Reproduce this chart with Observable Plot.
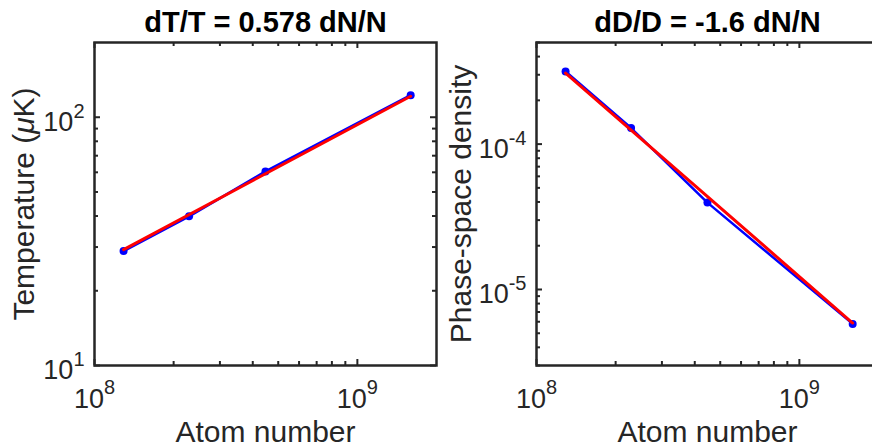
<!DOCTYPE html>
<html><head><meta charset="utf-8">
<script src="https://cdn.jsdelivr.net/npm/d3@7"></script>
<script src="https://cdn.jsdelivr.net/npm/@observablehq/plot@0.6"></script>
<style>
html,body{margin:0;padding:0;background:#fff;overflow:hidden}
#wrap{position:relative;width:872px;height:447px;overflow:hidden;background:#fff}
#wrap svg{position:absolute;top:0;overflow:visible}
</style></head><body><div id="wrap"></div>
<script>
// ---- data ----
const atomNumber = [1.29e8, 2.29e8, 4.47e8, 1.595e9];
const temperature = [28.9, 39.9, 60.5, 122.7];          // µK
const phaseSpaceDensity = [3.16e-4, 1.29e-4, 3.96e-5, 5.8e-6];
const fitAtomNumber = [1.29e8, 1.595e9];
const fitTemperature = [29.3, 121.5];
const fitDensity = [3.08e-4, 5.88e-6];
const titles = ["dT/T = 0.578 dN/N", "dD/D = -1.6 dN/N"];
const xLabel = "Atom number";
const yLabels = ["Temperature (μK)", "Phase-space density"];
const xDomain = [1e8, 2e9];
const tDomain = [10, 200];
const dDomain = [3e-6, 5e-4];
const xMajor = [1e8, 1e9];
const xMinor = [2e8, 3e8, 4e8, 5e8, 6e8, 7e8, 8e8, 9e8];
const tMajor = [10, 100];
const tMinor = [20, 30, 40, 50, 60, 70, 80, 90];
const dMajor = [1e-5, 1e-4];
const dMinor = [3e-6, 4e-6, 5e-6, 6e-6, 7e-6, 8e-6, 9e-6,
                2e-5, 3e-5, 4e-5, 5e-5, 6e-5, 7e-5, 8e-5, 9e-5,
                2e-4, 3e-4, 4e-4, 5e-4];

const ink = "#262626";
const FW = 342, FH = 323; // frame size in px

function panel(o) {
  const pts = o.x.map((v, i) => ({x: v, y: o.y[i]}));
  const fit = o.fx.map((v, i) => ({x: v, y: o.fy[i]}));
  const fmt = d => `10^${Math.round(Math.log10(d))}`;
  const tickStyle = {stroke: ink, strokeWidth: 2};
  return Plot.plot({
    width: o.width, height: 447,
    marginLeft: o.marginLeft, marginRight: o.width - o.marginLeft - FW,
    marginTop: 42, marginBottom: 447 - 42 - FH,
    style: {fontFamily: "'Liberation Sans', Arial, Helvetica, sans-serif", color: ink, background: "transparent", overflow: "visible"},
    x: {type: "log", domain: xDomain, label: null},
    y: {type: "log", domain: o.yDomain, label: null},
    marks: [
      Plot.line(pts, {x: "x", y: "y", stroke: "#0000ff", strokeWidth: 2.5}),
      Plot.dot(pts, {x: "x", y: "y", r: 4, fill: "#0000ff"}),
      Plot.line(fit, {x: "x", y: "y", stroke: "#ff0000", strokeWidth: 3}),
      // inward ticks: bottom/top x, left/right y
      Plot.tickX(xMajor, {x: d => d, insetTop: FH - 6, ...tickStyle}),
      Plot.tickX(xMinor, {x: d => d, insetTop: FH - 4, ...tickStyle}),
      Plot.tickX(xMajor, {x: d => d, insetBottom: FH - 6, ...tickStyle}),
      Plot.tickX(xMinor, {x: d => d, insetBottom: FH - 4, ...tickStyle}),
      Plot.tickY(o.yMajor, {y: d => d, insetRight: FW - 6, ...tickStyle}),
      Plot.tickY(o.yMinor, {y: d => d, insetRight: FW - 4, ...tickStyle}),
      Plot.tickY(o.yMajor, {y: d => d, insetLeft: FW - 6, ...tickStyle}),
      Plot.tickY(o.yMinor, {y: d => d, insetLeft: FW - 4, ...tickStyle}),
      Plot.frame({stroke: ink, strokeWidth: 2.5}),
      Plot.axisX(xMajor, {anchor: "bottom", tickSize: 0, tickPadding: 23, tickFormat: fmt, fontSize: 27, fill: ink, label: null}),
      Plot.axisY(o.yMajor, {anchor: "left", tickSize: 0, tickPadding: 10, dy: 5, tickFormat: fmt, fontSize: 27, fill: ink, label: null}),
      Plot.text([o.title], {frameAnchor: "top", dy: -11, lineAnchor: "bottom", textAnchor: "middle", fontSize: 29, fontWeight: "bold", fill: "#000"}),
      Plot.text([xLabel], {frameAnchor: "bottom", dy: 76, lineAnchor: "bottom", textAnchor: "middle", fontSize: 30, fill: ink}),
      Plot.text([o.yLabel], {frameAnchor: "left", dx: o.yLabelDx, rotate: -90, lineAnchor: "bottom", textAnchor: "middle", fontSize: 30, fill: ink})
    ]
  });
}

const left = panel({x: atomNumber, y: temperature, fx: fitAtomNumber, fy: fitTemperature,
  yDomain: tDomain, yMajor: tMajor, yMinor: tMinor, title: titles[0], yLabel: yLabels[0],
  width: 450, marginLeft: 94, yLabelDx: -61});
const right = panel({x: atomNumber, y: phaseSpaceDensity, fx: fitAtomNumber, fy: fitDensity,
  yDomain: dDomain, yMajor: dMajor, yMinor: dMinor, title: titles[1], yLabel: yLabels[1],
  width: 440, marginLeft: 86, yLabelDx: -66});

const wrap = document.getElementById("wrap");
left.style.left = "0px";
right.style.left = "450px";
wrap.appendChild(left);
wrap.appendChild(right);

// superscripts and italic mu as real text
for (const svg of [left, right]) {
  d3.select(svg).selectAll("text").each(function () {
    const t = this.textContent;
    const m = /^10\^(-?\d+)$/.exec(t);
    const sel = d3.select(this);
    if (m) {
      const isY = this.closest('[aria-label="y-axis tick label"]') !== null;
      sel.text("10");
      sel.append("tspan").attr("font-size", 20).attr("dy", isY ? -13 : -14).text(m[1]);
    } else if (t.includes("μ")) {
      const [a, b] = t.split("μ");
      sel.text(a);
      sel.append("tspan").attr("font-style", "italic").text("μ");
      sel.append("tspan").text(b);
    }
  });
}
</script></body></html>
